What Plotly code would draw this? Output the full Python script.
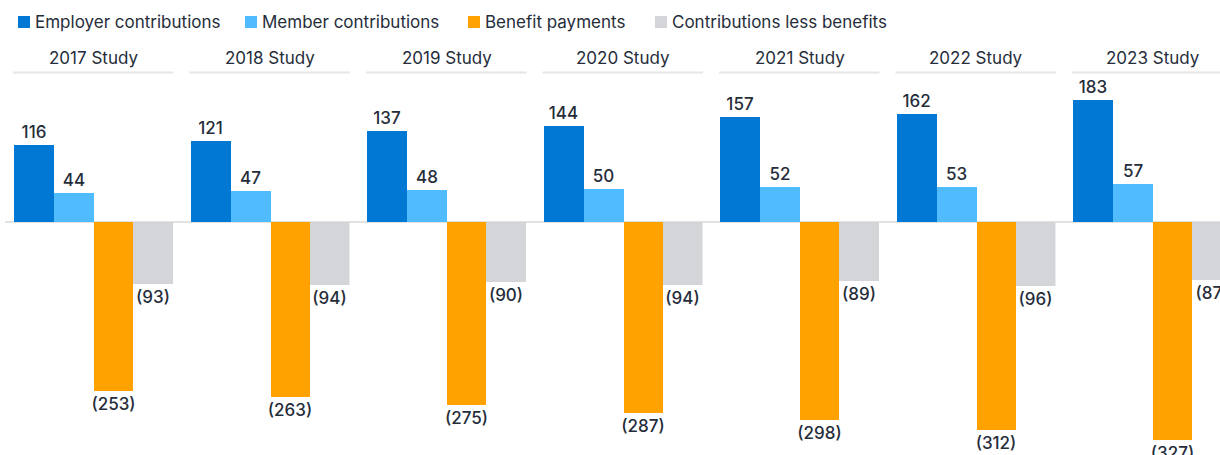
import plotly.graph_objects as go

studies = ["2017 Study", "2018 Study", "2019 Study", "2020 Study", "2021 Study", "2022 Study", "2023 Study"]
series_names = ["Employer contributions", "Member contributions", "Benefit payments", "Contributions less benefits"]
employer = [116, 121, 137, 144, 157, 162, 183]
member = [44, 47, 48, 50, 52, 53, 57]
benefits = [-253, -263, -275, -287, -298, -312, -327]
net = [-93, -94, -90, -94, -89, -96, -87]
colors = ["#0078D4", "#50BBFF", "#FFA200", "#D4D5D8"]

all_series = [employer, member, benefits, net]

W, H = 1220, 455
FONT = "Inter"
TXT = "#262d3a"


def fmt(v):
    return f"({abs(v)})" if v < 0 else f"{v}"


fig = go.Figure()
panel_left = 14
panel_step = 176.5
panel_w = 159

layout_axes = {}
for i, study in enumerate(studies):
    ax = "x" if i == 0 else f"x{i+1}"
    axname = "xaxis" if i == 0 else f"xaxis{i+1}"
    left = panel_left + panel_step * i
    right = left + panel_w
    d0 = left / W
    d1 = min(right / W, 1.0)
    visible_frac = (d1 * W - left) / panel_w
    for s, (name, vals, col) in enumerate(zip(series_names, all_series, colors)):
        fig.add_trace(go.Bar(
            x=[study], y=[vals[i]], name=name, marker_color=col,
            marker_line_width=0,
            text=[fmt(vals[i])], textposition="outside", constraintext="none",
            textfont=dict(family=FONT, size=17, color=TXT, weight=500),
            cliponaxis=False, showlegend=False, xaxis=ax, yaxis="y",
            offsetgroup=str(s),
        ))
    layout_axes[axname] = dict(domain=[d0, d1], visible=False,
                               range=[-0.5, -0.5 + visible_frac], fixedrange=True)
    # panel title
    fig.add_annotation(x=(left + panel_w / 2) / W, y=1 - 58 / H, xref="paper", yref="paper",
                       text=study, showarrow=False, xanchor="center", yanchor="middle",
                       font=dict(family=FONT, size=17, color=TXT))
    fig.add_shape(type="line", xref="paper", yref="paper",
                  x0=(left - 1) / W, x1=min(right + 0.5, W) / W,
                  y0=1 - 72.5 / H, y1=1 - 72.5 / H,
                  line=dict(color="#E6E6E6", width=2))

# zero line
fig.add_shape(type="line", xref="paper", yref="y", x0=5 / W, x1=1, y0=0, y1=0,
              line=dict(color="#E2E2E2", width=2), layer="below")

# custom legend
leg_x = [18, 245, 468, 655]
for name, col, lx in zip(series_names, colors, leg_x):
    fig.add_shape(type="rect", xref="paper", yref="paper",
                  x0=lx / W, x1=(lx + 12) / W, y0=1 - 28 / H, y1=1 - 16 / H,
                  fillcolor=col, line_width=0)
    fig.add_annotation(x=(lx + 15) / W, y=1 - 22 / H, xref="paper", yref="paper",
                       text=name, showarrow=False, xanchor="left", yanchor="middle",
                       font=dict(family=FONT, size=17, color=TXT))

k = 0.666
fig.update_layout(
    width=W, height=H,
    margin=dict(l=0, r=0, t=0, b=0),
    paper_bgcolor="white", plot_bgcolor="white",
    barmode="group", bargap=0, bargroupgap=0,
    yaxis=dict(range=[-233 / k, 222 / k], visible=False, fixedrange=True),
    showlegend=False,
    **layout_axes,
)

fig.write_html("out.html", config={"displayModeBar": False},
               post_script="document.body.style.margin='0px';document.body.style.overflow='hidden';")
